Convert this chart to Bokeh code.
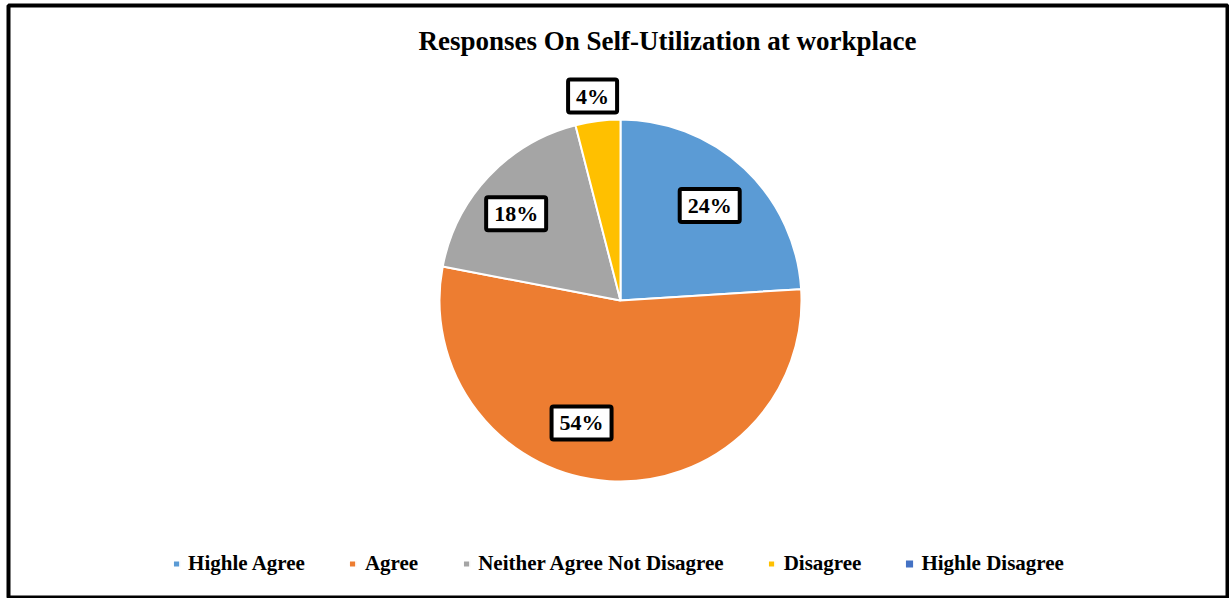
import math
from bokeh.plotting import figure
from bokeh.models import ColumnDataSource, Range1d, Label, Legend, LegendItem
from bokeh.embed import file_html
from bokeh.resources import INLINE

# ---- data ----
categories = ["Highle Agree", "Agree", "Neither Agree Not Disagree", "Disagree", "Highle Disagree"]
percent = [24, 54, 18, 4, 0]
colors = ["#5B9BD5", "#ED7D31", "#A5A5A5", "#FFC000", "#4472C4"]

FONT = "Liberation Serif"

# ---- layout ----
W, H = 1229, 598
ML, MR, MT, MB = 8, 2, 5, 0
CX, CY, RPX = 620, 300, 181  # pie centre / radius in page pixels
FW, FH = W - ML - MR, H - MT - MB
s = RPX
x0 = (ML - CX) / s
x1 = (W - MR - CX) / s
y1 = (CY - MT) / s
y0 = -(H - MB - CY) / s

total = sum(percent)
starts, ends, mids = [], [], []
cum = 0.0
for v in percent:
    a0 = math.pi / 2 - cum / total * 2 * math.pi
    cum += v
    a1 = math.pi / 2 - cum / total * 2 * math.pi
    starts.append(a0)
    ends.append(a1)
    mids.append((a0 + a1) / 2)

nz = [i for i, v in enumerate(percent) if v > 0]
src = ColumnDataSource(dict(cat=[categories[i] for i in nz],
                            val=[percent[i] for i in nz],
                            color=[colors[i] for i in nz],
                            start=[starts[i] for i in nz],
                            end=[ends[i] for i in nz]))

p = figure(width=W, height=H, output_backend="svg", toolbar_location=None,
           x_range=Range1d(x0, x1), y_range=Range1d(y0, y1),
           min_border_left=ML, min_border_right=MR, min_border_top=MT, min_border_bottom=MB)
p.axis.visible = False
p.grid.visible = False
p.outline_line_color = "black"
p.outline_line_width = 4
p.background_fill_color = "white"
p.border_fill_color = "white"

r = p.wedge(x=0, y=0, radius=1.0, start_angle="start", end_angle="end",
            direction="clock", fill_color="color", line_color="white", line_width=2,
            source=src)

# title
p.add_layout(Label(x=667 - ML, y=FH - (40 - MT), x_units="screen", y_units="screen",
                   text="Responses On Self-Utilization at workplace",
                   text_font=FONT, text_font_style="bold",
                   text_font_size="27px", text_align="center", text_baseline="middle",
                   text_color="black"))

# data labels
label_r = [0.72, 0.71, 0.75, 1.14]
label_shift = [0.0, -0.245, 0.06, 0.01]
for i, v in enumerate(percent):
    if v == 0:
        continue
    a = mids[i] + label_shift[i]
    lx = label_r[i] * math.cos(a)
    ly = label_r[i] * math.sin(a)
    p.add_layout(Label(x=lx, y=ly, text=f"{v}%",
                       text_font=FONT, text_font_style="bold",
                       text_font_size="22px", text_align="center", text_baseline="middle",
                       text_color="black", background_fill_color="white",
                       border_line_color="black", border_line_width=4,
                       padding=(8, 4), border_radius=2))

# legend: one entry per category (zero slices get a zero-radius renderer)
items = []
k = 0
for i, c in enumerate(categories):
    if percent[i] > 0:
        items.append(LegendItem(label=c, renderers=[r], index=k))
        k += 1
    else:
        er = p.wedge(x=[0], y=[0], radius=0, start_angle=0, end_angle=0.01,
                     fill_color=colors[i], line_color="white", line_width=2, line_alpha=0)
        items.append(LegendItem(label=c, renderers=[er]))

legend = Legend(items=items, orientation="horizontal", location="bottom_center",
                label_text_font=FONT, label_text_font_style="bold",
                label_text_font_size="21px", label_text_color="black",
                glyph_width=9, glyph_height=9,
                label_standoff=8, spacing=43, background_fill_alpha=0,
                border_line_alpha=0, margin=22, padding=0)
p.add_layout(legend)

open("out.html", "w").write(file_html(p, INLINE))
